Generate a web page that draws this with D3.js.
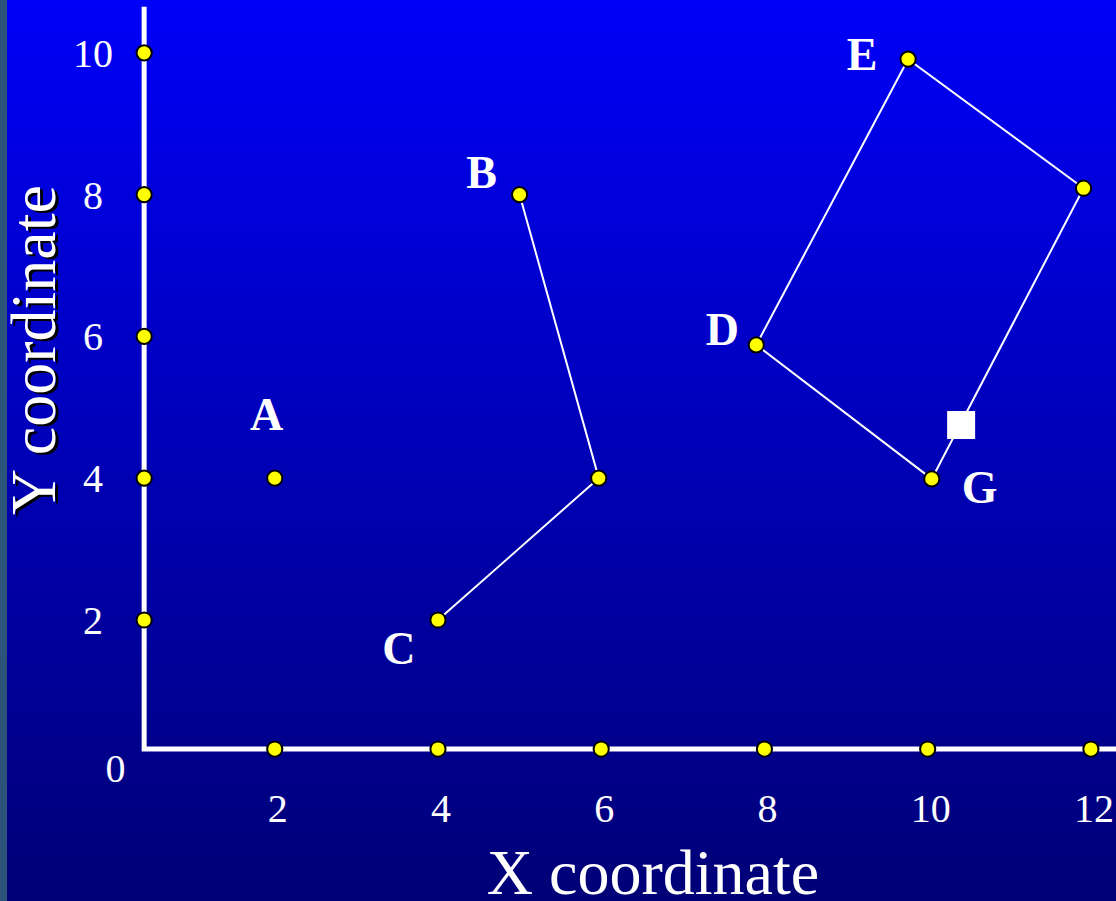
<!DOCTYPE html>
<html>
<head>
<meta charset="utf-8">
<script src="https://cdn.jsdelivr.net/npm/d3@7/dist/d3.min.js"></script>
<style>
  html, body { margin: 0; padding: 0; background: #000080; }
  svg { display: block; }
</style>
</head>
<body>
<script>
// ---- data ----
const xTicks = [2, 4, 6, 8, 10, 12];
const yTicks = [2, 4, 6, 8, 10];

// isolated point
const pointA = [{ name: "A", x: 2, y: 4 }];

// open path B -> (6,4) -> C
const pathBC = [
  { name: "B", x: 5, y: 8 },
  { name: "",  x: 5.97, y: 4 },
  { name: "C", x: 4, y: 2 }
];

// closed quadrilateral D -> E -> (F) -> G
const quadDEG = [
  { name: "D", x: 7.9,  y: 5.88 },
  { name: "E", x: 9.76, y: 9.91 },
  { name: "",  x: 11.91, y: 8.09 },
  { name: "G", x: 10.05, y: 3.99 }
];

// query point (white square) on edge G-F
const queryPoint = [{ x: 10.41, y: 4.75 }];

// axis placement in data units
const axisAt = { x: 0.4, y: 0.18, yTop: 10.65, xRight: 12.6 };

// ---- layout ----
const W = 1116, H = 901;
const x = d3.scaleLinear().domain([0, 12]).range([111.5, 1090.9]);
const y = d3.scaleLinear().domain([0, 10]).range([761.8, 52.8]);

const labelOffset = {
  A: [-8, -48], B: [-38, -7], C: [-39, 44],
  D: [-34, 0],  E: [-46, 11], G: [48, 24]
};

const svg = d3.select("body").append("svg")
  .attr("width", W).attr("height", H);

const defs = svg.append("defs");
const grad = defs.append("linearGradient")
  .attr("id", "bg").attr("x1", 0).attr("y1", 0).attr("x2", 0).attr("y2", 1);
grad.append("stop").attr("offset", "0%").attr("stop-color", "#0000f8");
grad.append("stop").attr("offset", "100%").attr("stop-color", "#000076");

svg.append("rect").attr("width", W).attr("height", H).attr("fill", "url(#bg)");
svg.append("rect").attr("width", 7).attr("height", H).attr("fill", "#2c5379");

const serif = "'Liberation Serif', 'Times New Roman', serif";

// ---- axes ----
const gAxis = svg.append("g");
gAxis.append("path")
  .attr("d", d3.line()([
    [x(axisAt.x), y(axisAt.yTop)],
    [x(axisAt.x), y(axisAt.y)],
    [x(axisAt.xRight), y(axisAt.y)]
  ]))
  .attr("fill", "none").attr("stroke", "#fff").attr("stroke-width", 5)
  .attr("stroke-linejoin", "miter");

// tick labels
svg.append("g").selectAll("text").data(yTicks).join("text")
  .attr("x", 93).attr("y", d => y(d) + 14)
  .attr("text-anchor", "middle")
  .attr("font-family", serif).attr("font-size", 40).attr("fill", "#fff")
  .text(d => d);

svg.append("g").selectAll("text").data(xTicks).join("text")
  .attr("x", d => x(d) + 3).attr("y", 822)
  .attr("text-anchor", "middle")
  .attr("font-family", serif).attr("font-size", 40).attr("fill", "#fff")
  .text(d => d);

svg.append("text")
  .attr("x", x(0) + 4).attr("y", y(0) + 20)
  .attr("text-anchor", "middle")
  .attr("font-family", serif).attr("font-size", 40).attr("fill", "#fff")
  .text("0");

// axis titles
svg.append("text")
  .attr("x", 653).attr("y", 894)
  .attr("text-anchor", "middle")
  .attr("font-family", serif).attr("font-size", 64).attr("fill", "#fff")
  .text("X coordinate");

const yTitle = svg.append("g");
yTitle.append("text")
  .attr("transform", "translate(58,352) rotate(-90)")
  .attr("text-anchor", "middle")
  .attr("font-family", serif).attr("font-size", 64).attr("fill", "#000")
  .text("Y coordinate");
yTitle.append("text")
  .attr("transform", "translate(55,350) rotate(-90)")
  .attr("text-anchor", "middle")
  .attr("font-family", serif).attr("font-size", 64).attr("fill", "#fff")
  .text("Y coordinate");

// ---- connecting lines ----
const line = d3.line().x(d => x(d.x)).y(d => y(d.y));
svg.append("path").datum(pathBC)
  .attr("d", line)
  .attr("fill", "none").attr("stroke", "#fff").attr("stroke-width", 2);
svg.append("path").datum(quadDEG)
  .attr("d", d3.line().x(d => x(d.x)).y(d => y(d.y)).curve(d3.curveLinearClosed))
  .attr("fill", "none").attr("stroke", "#fff").attr("stroke-width", 2);

// ---- dots ----
const dotStyle = sel => sel
  .attr("r", 7.6).attr("fill", "#ffff00")
  .attr("stroke", "#000").attr("stroke-width", 2);

const axisDots = [
  ...xTicks.map(v => ({ x: v, y: axisAt.y })),
  ...yTicks.map(v => ({ x: axisAt.x, y: v }))
];
svg.append("g").selectAll("circle").data(axisDots).join("circle")
  .attr("cx", d => x(d.x)).attr("cy", d => y(d.y)).call(dotStyle);

const allPts = [...pointA, ...pathBC, ...quadDEG];
svg.append("g").selectAll("circle").data(allPts).join("circle")
  .attr("cx", d => x(d.x)).attr("cy", d => y(d.y)).call(dotStyle);

// query square
svg.append("g").selectAll("rect").data(queryPoint).join("rect")
  .attr("x", d => x(d.x) - 14).attr("y", d => y(d.y) - 14)
  .attr("width", 28).attr("height", 28).attr("fill", "#fff");

// ---- point labels ----
svg.append("g").selectAll("text").data(allPts.filter(d => d.name)).join("text")
  .attr("x", d => x(d.x) + labelOffset[d.name][0])
  .attr("y", d => y(d.y) + labelOffset[d.name][1])
  .attr("text-anchor", "middle")
  .attr("font-family", serif).attr("font-weight", "bold")
  .attr("font-size", 46).attr("fill", "#fff")
  .text(d => d.name);
</script>
</body>
</html>
